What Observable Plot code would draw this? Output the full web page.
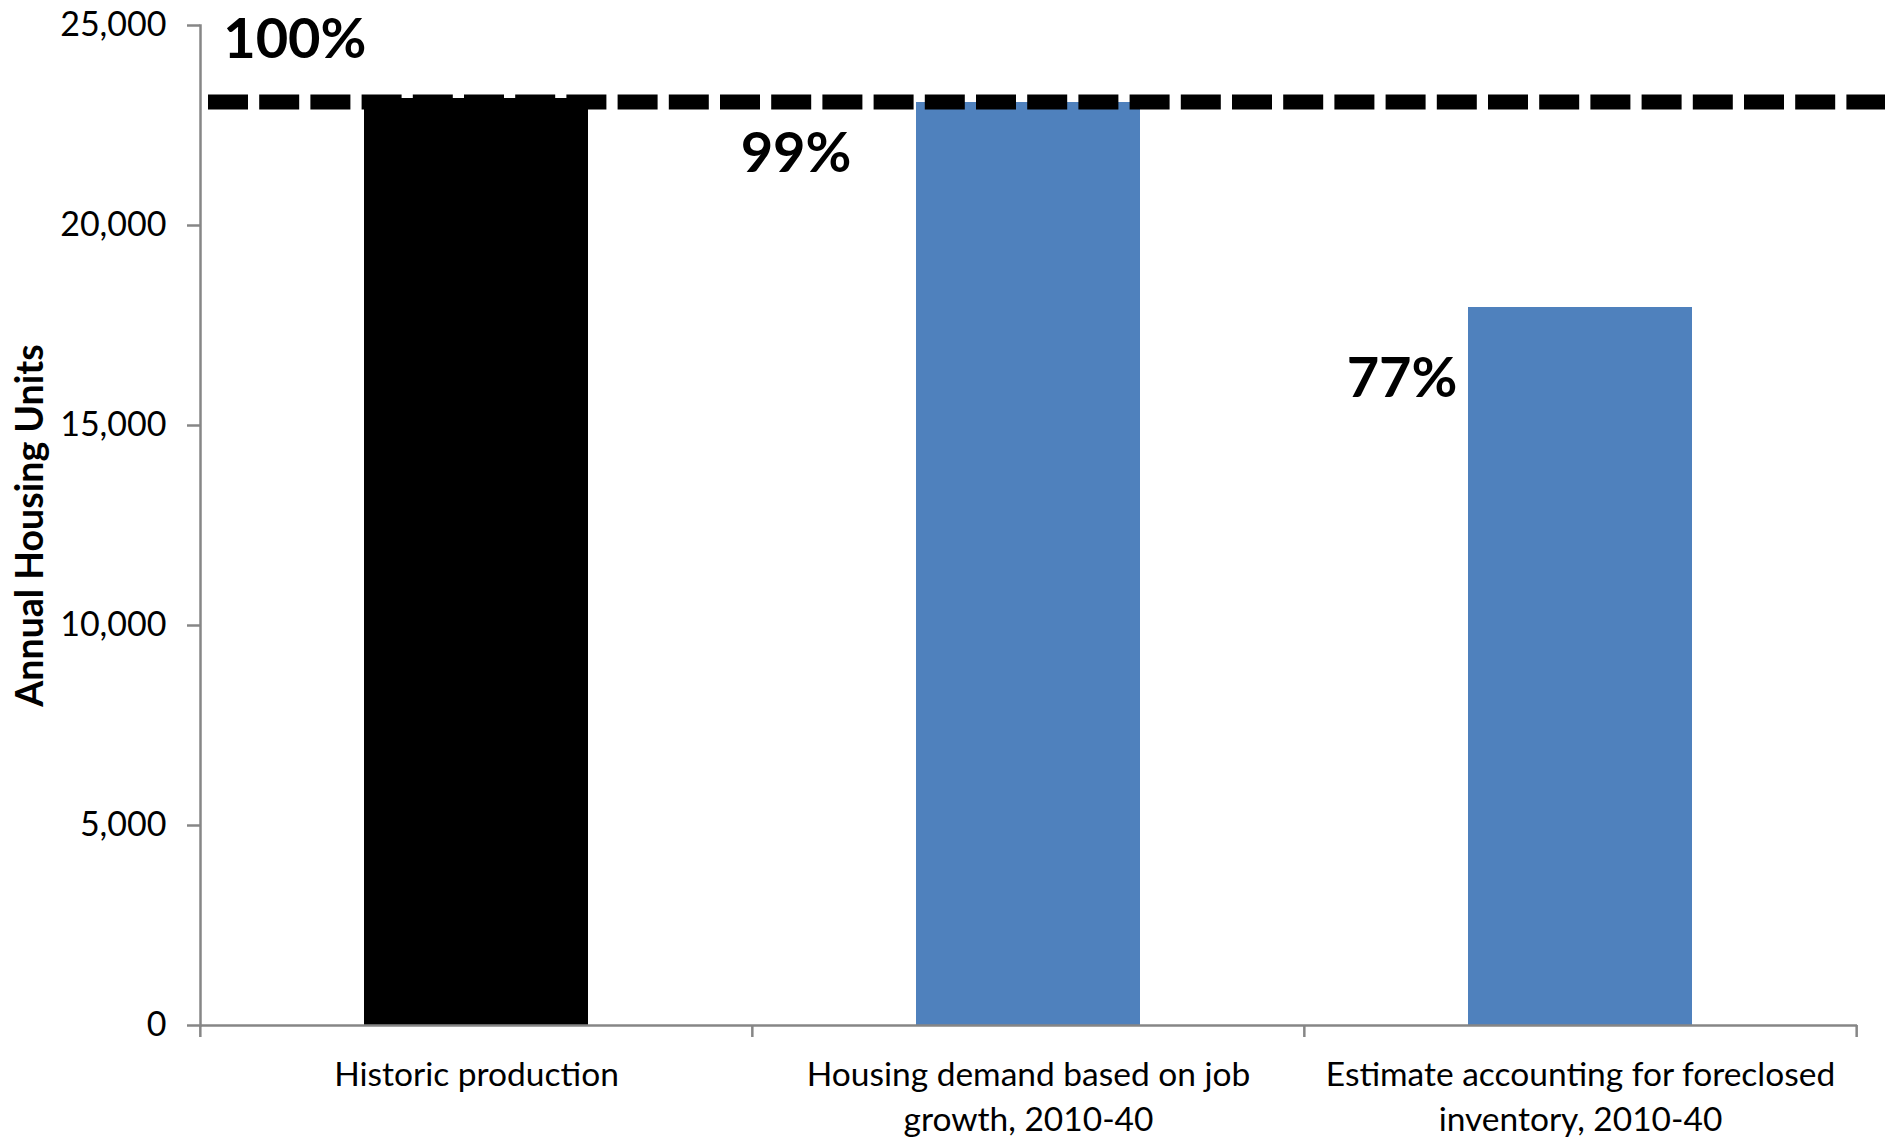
<!DOCTYPE html>
<html>
<head>
<meta charset="utf-8">
<script src="https://cdn.jsdelivr.net/npm/d3@7"></script>
<script src="https://cdn.jsdelivr.net/npm/@observablehq/plot@0.6"></script>
<style>
  html, body { margin: 0; padding: 0; background: #fff; }
  #chart { width: 1897px; height: 1139px; }
</style>
</head>
<body>
<div id="chart"></div>
<script>
const categories = ["Historic production", "Housing demand based on job growth, 2010-40", "Estimate accounting for foreclosed inventory, 2010-40"];
const tickLabels = ["Historic production", "Housing demand based on job\ngrowth, 2010-40", "Estimate accounting for foreclosed\ninventory, 2010-40"];
const values = [23175, 23075, 17950];
const referenceLevel = 23090;
const barColors = ["#000000", "#4F81BD", "#4F81BD"];
const pctLabels = ["100%", "99%", "77%"];
const yTicks = [0, 5000, 10000, 15000, 20000, 25000];
const yTitle = "Annual Housing Units";

const W = 1897, H = 1139;
const mL = 200, mR = 40, mT = 25, mB = 114;
const step = (W - mL - mR) / categories.length;
const data = categories.map((c, i) => ({cat: c, value: values[i], color: barColors[i]}));
const axisGray = "#868686";
const font = "Lato, 'Open Sans', sans-serif";

const pct = (i, dx, dy) => Plot.text([data[i]], {
  x: "cat", y: "value", text: () => pctLabels[i],
  textAnchor: "end", dx, dy, fontSize: 56, fontWeight: "bold", fill: "#000"
});

const chart = Plot.plot({
  width: W, height: H,
  marginLeft: mL, marginRight: mR, marginTop: mT, marginBottom: mB,
  style: {fontFamily: font, background: "#fff", color: "#000"},
  x: {domain: categories, paddingInner: 0.594, paddingOuter: 0.297, label: null},
  y: {domain: [0, 25000], label: null},
  marks: [
    Plot.barY(data, {x: "cat", y: "value", fill: "color"}),
    // y axis ticks + labels
    Plot.axisY({ticks: yTicks, tickSize: 13, tickPadding: 21, tickFormat: d3.format(","),
      stroke: axisGray, strokeWidth: 2.5, fill: "#000", fontSize: 34, label: null}),
    // y axis line
    Plot.frame({anchor: "left", stroke: axisGray, strokeWidth: 2.5}),
    // x axis line
    Plot.ruleY([0], {stroke: axisGray, strokeWidth: 2.5}),
    // category boundary ticks
    Plot.ruleX(categories, {x: d => d, stroke: axisGray, strokeWidth: 2.5, dx: -step / 2,
      insetTop: H - mT - mB, insetBottom: -12}),
    Plot.ruleX([categories[categories.length - 1]], {x: d => d, stroke: axisGray, strokeWidth: 2.5, dx: step / 2,
      insetTop: H - mT - mB, insetBottom: -12}),
    // x tick labels
    Plot.axisX({tickSize: 0, tickPadding: 28, fontSize: 33.5, lineHeight: 1.36,
      tickFormat: d => tickLabels[categories.indexOf(d)], label: null, fill: "#000"}),
    // dashed reference line at historic production
    Plot.ruleY([referenceLevel], {stroke: "#000", strokeWidth: 15, strokeDasharray: "40,11.2",
      insetLeft: 8, insetRight: -28}),
    // percentage labels
    pct(0, -110, -58),
    pct(1, -177, 52),
    pct(2, -123, 72),
    // y axis title
    Plot.text([yTitle], {frameAnchor: "left", rotate: -90, dx: -170, fontSize: 37.5,
      textAnchor: "middle", fontWeight: "bold", fill: "#000", text: d => d})
  ]
});
document.getElementById("chart").appendChild(chart);
</script>
</body>
</html>
